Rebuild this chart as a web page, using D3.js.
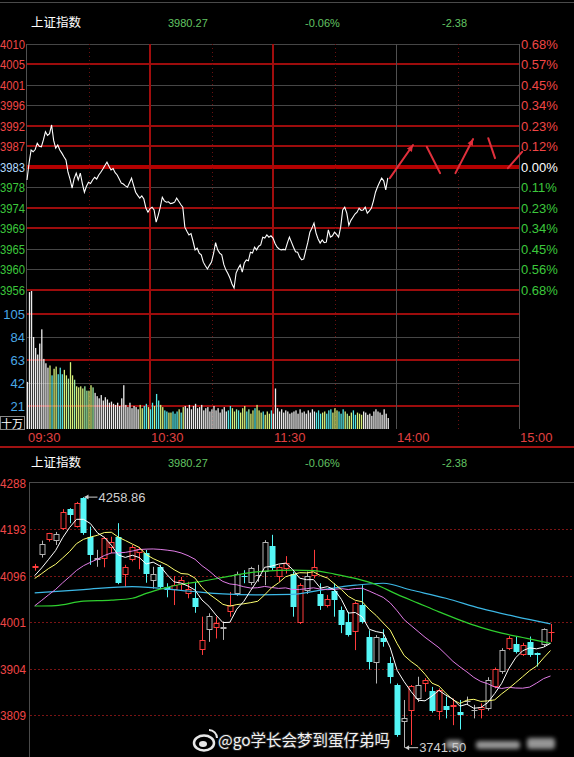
<!DOCTYPE html>
<html><head><meta charset="utf-8">
<script src="https://cdn.jsdelivr.net/npm/d3@7"></script>
<style>
html,body{margin:0;padding:0;background:#000;}
svg{display:block;}
text{font-family:"Liberation Sans",Arial,sans-serif;}
</style></head><body>
<svg id="c" width="574" height="757"></svg>
<script>
// ---------------- data ----------------
const indexName = "上证指数";
const lastPrice = 3980.27;
const changePct = -0.06;
const change = -2.38;

const priceLeftLabels = ["4010","4005","4001","3996","3992","3987","3983","3978","3974","3969","3965","3960","3956"];
const pctRightLabels = ["0.68%","0.57%","0.45%","0.34%","0.23%","0.12%","0.00%","0.11%","0.23%","0.34%","0.45%","0.56%","0.68%"];
const timeTickMinutes = [0,60,120,180,240];
const timeTickLabels = ["09:30","10:30","11:30","14:00","15:00"];
const volumeTicks = [21,42,63,84,105];
const volumeUnit = "十万";

const minutePrice = [
3979.8,3983.5,3986.4,3986.0,3986.5,3987.9,3987.2,3987.1,3988.6,3990.4,
3989.6,3990.0,3991.9,3988.5,3986.8,3987.5,3986.4,3985.7,3984.9,3984.2,
3981.5,3980.0,3978.0,3980.1,3981.3,3979.8,3981.3,3979.0,3977.1,3978.4,
3979.3,3979.0,3979.8,3980.4,3980.0,3980.9,3981.5,3982.2,3983.0,3983.7,
3982.8,3982.0,3982.3,3981.4,3980.9,3980.0,3979.1,3978.9,3978.5,3978.2,
3979.2,3980.2,3978.6,3977.1,3976.4,3975.8,3976.3,3975.6,3973.6,3972.7,
3973.5,3973.8,3973.2,3970.5,3972.0,3973.8,3976.0,3975.2,3974.9,3975.0,
3974.6,3974.7,3974.9,3975.8,3975.1,3974.4,3973.8,3969.4,3968.5,3967.7,
3968.0,3966.3,3964.4,3964.8,3963.7,3963.3,3961.7,3960.9,3960.2,3961.0,
3961.7,3963.6,3966.0,3964.4,3963.7,3963.3,3961.2,3960.0,3959.2,3958.2,
3956.9,3956.0,3959.3,3960.3,3961.1,3959.5,3961.5,3962.2,3962.0,3963.9,
3963.7,3965.0,3964.4,3965.2,3965.5,3967.2,3967.0,3967.7,3967.2,3967.5,
3967.0,3965.8,3965.0,3964.6,3964.4,3964.5,3964.4,3965.9,3967.2,3966.1,
3965.0,3964.0,3963.9,3962.8,3962.2,3962.4,3964.3,3966.1,3968.3,3969.2,
3970.3,3968.1,3966.8,3965.9,3966.6,3966.0,3966.1,3968.8,3967.2,3967.5,
3968.3,3967.8,3967.2,3969.4,3973.2,3973.8,3972.5,3969.8,3970.9,3971.6,
3972.3,3972.7,3973.6,3973.1,3973.2,3973.8,3972.5,3973.0,3973.6,3975.2,
3977.1,3978.3,3979.3,3980.2,3979.6,3977.6,3980.27];

const minuteVolume = [
43,125,126,84,74,68,78,91,64,60,
56,58,49,55,57,50,56,50,54,49,
46,61,49,45,39,38,39,37,39,35,
35,40,38,33,30,28,31,26,29,27,
24,25,23,22,24,21,28,40,22,20,
24,19,21,20,18,22,19,21,23,20,
18,24,21,32,26,22,20,17,16,15,
15,16,14,16,18,15,20,21,19,22,
18,21,23,19,20,22,17,19,20,16,
18,21,17,19,15,18,20,16,17,21,
19,16,18,17,15,19,21,16,18,14,
17,19,22,17,15,16,13,16,14,17,
14,37,19,16,18,15,17,16,14,15,
16,17,14,18,15,16,14,17,15,18,
16,15,17,14,15,16,14,17,18,15,
19,17,16,14,18,16,14,12,15,17,
13,15,14,13,16,15,13,14,12,16,
18,16,15,13,18,14,10];

// per-minute volume category (w: neutral, c / y / g: highlighted trade groups)
const volumeKind = [...(
 "wwwwwwwwwww" +
 "ycyycccyygyygyyyyggyyg" +
 "wwwwwwwwwwwwwwwwwwwwww" +
 "yyccyccyccyyccyycccycy" +
 "wwwwwwwwwwwwwwwwwwwww" +
 "ccyygcyyycgyycyyycyyyc" +
 "wwwwwwwwwwwwwwwwwwwww" +
 "cccyycccyyycccygyyccyyy" +
 "wwwwwwwwwwwww")];

// hand-drawn arrows: [minute, price] pairs
const annotations = [
 {from:[177,3980.2], to:[188.3,3987.5], head:true},
 {from:[195,3987.1], to:[201.5,3981.3], head:false},
 {from:[209,3981.3], to:[217.6,3988.8], head:true},
 {from:[225,3989.0], to:[228.3,3984.6], head:false},
 {from:[234.6,3982.4], to:[241.5,3986.0], head:false}
];

// daily candles
const kOpen = [4112,4139,4170,4169,4192,4234,4198,4257,4177,4128,
4132,4153,4177,4098,4129,4143,4143,4086,4115,4074,
4067,4077,4059,4050,3943,3984,3988,3986,4022,4059,
4096,4081,4096,4105,4158,4093,4110,4101,3998,4066,
4096,4059,4034,4064,4026,4002,3981,4036,3971,3916,
3967,3916,3871,3795,3818,3843,3874,3859,3816,3827,
3825,3816,3837,3817,3819,3821,3867,3898,3946,3955,
3933,3960,3936,3953,3978.5];
const kHigh = [4121,4169,4185,4187,4234,4236,4249,4258.86,4198,4150,
4177,4177,4205,4119,4160,4156,4150,4115,4119,4081,
4096,4094,4084,4084,4012,4019,4012,4002,4063,4105,
4108,4115,4119,4170,4181,4119,4137,4105,4081,4105,
4150,4081,4057,4081,4033,4022,4043,4077,3984,3974,
3986,3929,3874,3840,3871,3888,3885,3867,3864,3847,
3843,3840,3847,3830,3833,3887,3907,3947,3972,3971,
3958,3971,3938,3988,3997];
const kLow = [4107,4134,4167,4160,4191,4205,4196,4181,4119,4115,
4114,4143,4079,4074,4126,4110,4082,4070,4070,4052,
4036,4067,4050,4020,3933,3960,3967,3964,4012,4055,
4081,4077,4084,4077,4108,4084,4101,4012,3997,4059,
4091,4026,4031,4012,3978,3971,3943,3998,3903,3874,
3950,3874,3764,3741.5,3747,3836,3857,3814,3799,3802,
3788,3779,3830,3802,3802,3818,3864,3894,3943,3936,
3931,3929,3909,3950,3960];
const kClose = [4116,4162,4184,4183,4229,4222,4247,4184,4139,4134,
4174,4167,4082,4115,4156,4151,4100,4101,4074,4067,
4077,4088,4070,4033,3964,4013,3998,3991,4036,4100,
4093,4112,4098,4167,4112,4114,4122,4033,4077,4096,
4115,4034,4048,4046,3995,3974,4040,4002,3919,3971,
3960,3888,3768,3802,3869,3871,3881,3818,3860,3819,
3830,3809,3838,3819,3826,3881,3903,3943,3969,3940,
3953,3933,3933,3986,3980.27];
// r: red hollow, g: grey hollow, c: cyan filled
const kKind = [..."rgrgrcrccgrrcrrrcgccrrrcrgrgrgcgggcrrcrgrcrcccrccgcccgrgrcrcrcggrgrgrcrccgr"];
// closes before the first visible candle (for moving averages)
const priorCloses = [3940,3952,3961,3958,3970,3985,3990,3998,4007,4019,
4062,4078,4096,4101,4088,4083,4095,4092,4098];
// long moving averages: [candle index, value]
const maGreen = [[0,4034],[3,4035],[7,4044],[11,4046],[14,4050],[16,4060],[18,4069],[21,4079],[24,4085],[27,4093],[30,4101],[33,4106],[37,4108],[40,4107],[43,4100],[46,4091],[49,4078],[52,4058],[55,4040],[58,4022],[61,4005],[64,3990],[67,3978],[70,3969],[74,3957]];
const maCyan = [[0,4061],[7,4068],[14,4074],[22,4065],[27,4059],[32,4057],[37,4058],[41,4067],[46,4077],[50,4081],[54,4067],[59,4050],[64,4029],[69,4012],[74,3997]];
const kTickLabels = [4288,4193,4096,4001,3904,3809];
const watermark = "@go学长会梦到蛋仔弟吗";

// ---------------- drawing ----------------
const svg = d3.select("#c");
const defs = svg.append("defs");
defs.append("filter").attr("id","blur").attr("x","-50%").attr("y","-50%").attr("width","200%").attr("height","200%")
  .append("feGaussianBlur").attr("stdDeviation",2.2);
svg.append("rect").attr("width",574).attr("height",757).attr("fill","#000");
const RED = "#f04646", GREEN = "#3cc83c";
const fmt = v => (v<0?"-":"") + Math.abs(v).toFixed(2);

svg.append("line").attr("x1",0).attr("x2",574).attr("y1",2.5).attr("y2",2.5).attr("stroke","#4a4a4a");

function header(y){
  const g = svg.append("g");
  g.append("text").attr("x",31).attr("y",y).attr("fill","#fff")
    .style("font-family","'Noto Sans CJK SC'").attr("font-size",12.5).text(indexName);
  const nums = [[168,fmt(lastPrice)],[305,fmt(changePct)+"%"],[442,fmt(change)]];
  nums.forEach(([x,t])=>g.append("text").attr("x",x).attr("y",y).attr("fill","#63c463").attr("font-size",11).text(t));
}
header(27);
header(467);

// narrow 4-digit axis label that fits in the left margin
function leftLabel(g, y, txt, col, w){
  const t = g.append("text").attr("y",y+4.5).attr("font-size",13).attr("fill",col).text(txt);
  if(String(txt).length>=4){ t.attr("x",0).attr("textLength",w).attr("lengthAdjust","spacingAndGlyphs"); }
  else { t.attr("x",w).attr("text-anchor","end"); }
  return t;
}

// ---- intraday ----
const prevClose = lastPrice - change;
const maxPct = 0.0068;
const xT = d3.scaleLinear().domain([0,240]).range([27,519]);
const yP = d3.scaleLinear().domain([prevClose*(1-maxPct), prevClose*(1+maxPct)]).range([290,44]);
const yV = d3.scaleLinear().domain([0,105]).range([429,314]);

const gTop = svg.append("g");
const redLevels = [5,2,1,-2,-3,-6];
d3.range(6,-7,-1).forEach((k,i)=>{
  const v = prevClose*(1+k*maxPct/6);
  const y = Math.round(yP(v));
  let stroke="#464646", w=1;
  if(k===0){stroke="#b30000"; w=4;}
  else if(redLevels.includes(k)){stroke="#9c0c0c"; w=2;}
  gTop.append("line").attr("x1",26).attr("x2",519).attr("y1",y+(w%2?0.5:0)).attr("y2",y+(w%2?0.5:0))
    .attr("stroke",stroke).attr("stroke-width",w);
  leftLabel(gTop, y, priceLeftLabels[i], k>0?RED:(k<0?GREEN:"#b4dcff"), 25);
  gTop.append("text").attr("x",521).attr("y",y+4.5).attr("font-size",13)
    .attr("fill",k>0?RED:(k<0?GREEN:"#ffffff")).text(pctRightLabels[i]);
});
volumeTicks.forEach(v=>{
  const y = Math.round(yV(v));
  const red = (v===21||v===63||v===105);
  gTop.append("line").attr("x1",26).attr("x2",519).attr("y1",red?y:y+0.5).attr("y2",red?y:y+0.5)
    .attr("stroke",red?"#9c0c0c":"#464646").attr("stroke-width",red?2:1);
  leftLabel(gTop, y, String(v), "#4aa8e8", 25);
});
// unit box
gTop.append("rect").attr("x",0.5).attr("y",416.5).attr("width",24).attr("height",13).attr("fill","none").attr("stroke","#888");
gTop.append("text").attr("x",1).attr("y",427.5).attr("fill","#fff").attr("font-size",11)
  .style("font-family","'Noto Sans CJK SC'").text(volumeUnit);

// vertical grid
[30,60,90,120,150,180,210,240].forEach(m=>{
  const x = Math.round(xT(m));
  const l = gTop.append("line").attr("y1",44).attr("y2",429);
  if(m===60||m===120){ l.attr("x1",x).attr("x2",x).attr("stroke","#a00d0d").attr("stroke-width",2); }
  else if(m===180||m===240){ l.attr("x1",x+0.5).attr("x2",x+0.5).attr("stroke","#505050"); }
  else { l.attr("x1",x+0.5).attr("x2",x+0.5).attr("stroke","#6a1010").attr("stroke-dasharray","1,3"); }
});
gTop.append("line").attr("x1",26.5).attr("x2",26.5).attr("y1",44).attr("y2",429).attr("stroke","#505050");

// volume bars
const vColor = {w:"#ececec", c:"#55e6e6", y:"#d6f07a", g:"#9fefa4"};
gTop.append("g").selectAll("rect").data(minuteVolume).join("rect")
  .attr("x",(d,i)=>xT(i)-0.2)
  .attr("width",1.3)
  .attr("y",d=>yV(d))
  .attr("height",d=>429-yV(d))
  .attr("fill",(d,i)=>vColor[volumeKind[i]]);

// price line
gTop.append("path").datum(minutePrice)
  .attr("d", d3.line().x((d,i)=>xT(i)).y(d=>yP(d)))
  .attr("fill","none").attr("stroke","#fff").attr("stroke-width",1.1);

// arrows
annotations.forEach(a=>{
  const x1=xT(a.from[0]), y1=yP(a.from[1]), x2=xT(a.to[0]), y2=yP(a.to[1]);
  gTop.append("line").attr("x1",x1).attr("y1",y1).attr("x2",x2).attr("y2",y2)
    .attr("stroke","#e0303c").attr("stroke-width",2).attr("stroke-linecap","round");
  if(a.head){
    const ang = Math.atan2(y2-y1,x2-x1), L=7, s=0.45;
    const p = [[x2,y2],[x2-L*Math.cos(ang-s),y2-L*Math.sin(ang-s)],[x2-L*Math.cos(ang+s),y2-L*Math.sin(ang+s)]];
    gTop.append("polygon").attr("points",p.map(q=>q.join(",")).join(" ")).attr("fill","#e0303c");
  }
});

// time labels
timeTickMinutes.forEach((m,i)=>{
  gTop.append("text").attr("x",Math.round(xT(m))+1).attr("y",442).attr("font-size",13)
    .attr("fill","#e04040").text(timeTickLabels[i]);
});
svg.append("line").attr("x1",0).attr("x2",574).attr("y1",447).attr("y2",447).attr("stroke","#a01212").attr("stroke-width",2);

// ---- daily candles ----
const gK = svg.append("g");
const xK = d3.scaleBand().domain(d3.range(kClose.length)).range([31.2,554]);
const yK = d3.scaleLinear().domain([3809,4288]).range([715,483]);
gK.append("line").attr("x1",29).attr("x2",574).attr("y1",482.5).attr("y2",482.5).attr("stroke","#4a4a4a");
gK.append("line").attr("x1",29.5).attr("x2",29.5).attr("y1",482).attr("y2",757).attr("stroke","#4a4a4a");
kTickLabels.forEach((v,i)=>{
  const y = Math.round(yK(v));
  if(i>0) gK.append("line").attr("x1",30).attr("x2",574).attr("y1",y+0.5).attr("y2",y+0.5)
    .attr("stroke","#7a1414").attr("stroke-dasharray","2,2");
  leftLabel(gK, y, String(v), RED, 26);
});

const kColor = {r:"#ff3c3c", g:"#b4b4b4", c:"#54f6f6"};
kClose.forEach((c,i)=>{
  const xc = Math.round(xK(i)+xK.bandwidth()/2)+0.5;
  const col = kColor[kKind[i]];
  const hiP = Math.max(kOpen[i],c), loP = Math.min(kOpen[i],c);
  const yTop = Math.round(yK(hiP)), yBot = Math.round(yK(loP));
  const h = Math.max(1, yBot-yTop);
  gK.append("line").attr("x1",xc).attr("x2",xc).attr("y1",yK(kHigh[i])).attr("y2",yK(kLow[i])).attr("stroke",col);
  if(kKind[i]==="c"){
    gK.append("rect").attr("x",xc-3).attr("y",yTop).attr("width",6).attr("height",h).attr("fill",col);
  } else if(h<=2){
    gK.append("rect").attr("x",xc-3).attr("y",yTop).attr("width",6).attr("height",h).attr("fill",col);
  } else {
    gK.append("rect").attr("x",xc-2.5).attr("y",yTop+0.5).attr("width",5).attr("height",h-1)
      .attr("fill","#000").attr("stroke",col);
  }
});

// moving averages
const allClose = priorCloses.concat(kClose);
const maN = n => kClose.map((_,i)=>{const j=i+priorCloses.length; return d3.mean(allClose.slice(j-n+1,j+1));});
const cx = i => xK(i)+xK.bandwidth()/2;
[[maCyan,"#3cb8e6"],[maGreen,"#2fd02f"]].forEach(([s,col])=>{
  gK.append("path").datum(s).attr("d",d3.line().x(d=>cx(d[0])).y(d=>yK(d[1])).curve(d3.curveMonotoneX))
    .attr("fill","none").attr("stroke",col).attr("stroke-width",1.2);
});
[[20,"#e07ce6"],[10,"#ffff70"],[5,"#ffffff"]].forEach(([n,col])=>{
  const s = maN(n);
  gK.append("path").datum(s).attr("d",d3.line().x((d,i)=>cx(i)).y(d=>yK(d)))
    .attr("fill","none").attr("stroke",col).attr("stroke-width",1);
});

// high / low markers
function marker(i, v){
  const xc = cx(i), y = yK(v);
  gK.append("line").attr("x1",xc+1).attr("x2",xc+14).attr("y1",y).attr("y2",y).attr("stroke","#cfcfcf");
  gK.append("path").attr("d",`M${xc+1},${y}l4,-2.5v5z`).attr("fill","#cfcfcf");
  gK.append("text").attr("x",xc+15).attr("y",y+4.5).attr("font-size",13).attr("fill","#cfcfcf").text(v.toFixed(2));
}
const hi = d3.maxIndex(kHigh), lo = d3.minIndex(kLow);
marker(hi, kHigh[hi]);
marker(lo, kLow[lo]);

// blurred smudges in the screenshot's bottom-right corner
const sm = svg.append("g").attr("filter","url(#blur)").attr("fill","#c8c8c8").attr("opacity",0.75);
[[446,740,16,9],[476,741,44,8],[527,738,28,11]].forEach(([x,y,w,h])=>sm.append("rect").attr("x",x).attr("y",y).attr("width",w).attr("height",h).attr("rx",3));

// watermark
const wm = svg.append("g");
wm.append("ellipse").attr("cx",204).attr("cy",743).attr("rx",10).attr("ry",7.5).attr("fill","none").attr("stroke","#e8e8e8").attr("stroke-width",2.5);
wm.append("ellipse").attr("cx",203).attr("cy",744).attr("rx",4).attr("ry",3).attr("fill","#e8e8e8");
wm.append("path").attr("d","M209,730 a8,8 0 0 1 8,8").attr("fill","none").attr("stroke","#e8e8e8").attr("stroke-width",2);
wm.append("text").attr("x",218).attr("y",746).attr("font-size",15.5).attr("fill","#f2f2f2")
  .style("font-family","'Noto Sans CJK SC'").attr("stroke","#222").attr("stroke-width",2).attr("paint-order","stroke").text(watermark);
</script>
</body></html>
